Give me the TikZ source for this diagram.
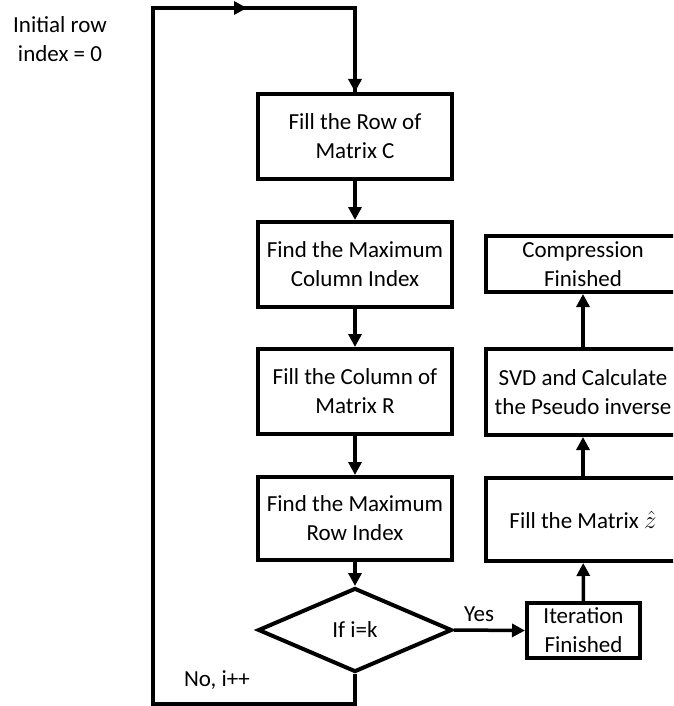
\documentclass[tikz,border=0pt]{standalone}
\usepackage{fontspec}
\setmainfont{Carlito}
\usetikzlibrary{arrows.meta,shapes.geometric}
\tikzset{
  box/.style={draw=black, line width=4pt, fill=white, align=center, inner sep=0pt,
    font=\fontsize{23}{29}\selectfont},
  lbl/.style={align=center, inner sep=0pt, font=\fontsize{23}{29}\selectfont},
  conn/.style={line width=3.5pt, -{Triangle[length=13pt,width=13pt]}},
  plain/.style={line width=3.5pt},
}
\begin{document}
\begin{tikzpicture}[x=1pt,y=-1pt]
\useasboundingbox (0,0) rectangle (673,706);
\clip (0,0) rectangle (673,706);
% left column
\node[box, minimum width=194pt, minimum height=85pt] (b1) at (355,136.5) {Fill the Row of\\Matrix C};
\node[box, minimum width=194pt, minimum height=85pt] (b2) at (355,264.5) {Find the Maximum\\Column Index};
\node[box, minimum width=194pt, minimum height=85pt] (b3) at (355,391.5) {Fill the Column of\\Matrix R};
\node[box, minimum width=194pt, minimum height=83pt] (b4) at (355,518.5) {Find the Maximum\\Row Index};
\node[box, diamond, minimum width=194pt, minimum height=84pt] (d) at (355,630) {If i=k};
% right column
\node[box, minimum width=194pt, minimum height=56pt] (c1) at (583,264) {Compression\\Finished};
\node[box, minimum width=194pt, minimum height=86pt] (c2) at (583,392) {SVD and Calculate\\the Pseudo inverse};
\node[box, minimum width=194pt, minimum height=83pt] (c3) at (583,519.5) {Fill the Matrix $\hat{z}$};
\node[box, minimum width=113pt, minimum height=55pt] (c4) at (583.5,630.5) {Iteration\\Finished};
% labels
\node[lbl] (init) at (60,39) {Initial row\\index = 0};
\node[lbl] (no) at (217,680) {No, i++};
\node[lbl] (yes) at (479,614) {Yes};
% loop coordinates
\coordinate (p1) at (355,704);
\coordinate (p2) at (153,704);
\coordinate (p3) at (153,8);
\coordinate (pm) at (247,8);
\coordinate (p4) at (355,8);
% connectors
\draw[conn] (b1) -- (b2);
\draw[conn] (b2) -- (b3);
\draw[conn] (b3) -- (b4);
\draw[conn] (b4) -- (d);
\draw[conn] (d.east) -- (c4.west);
\draw[conn] (c4) -- (c3);
\draw[conn] (c3) -- (c2);
\draw[conn] (c2) -- (c1);
\draw[plain, line join=miter] (d.south) -- (p1) -- (p2) -- (p3) -- (p4) -- (b1.north);
\draw[conn] (p3) -- (pm);
\draw[conn] (p4) -- (b1.north);
\end{tikzpicture}
\end{document}
